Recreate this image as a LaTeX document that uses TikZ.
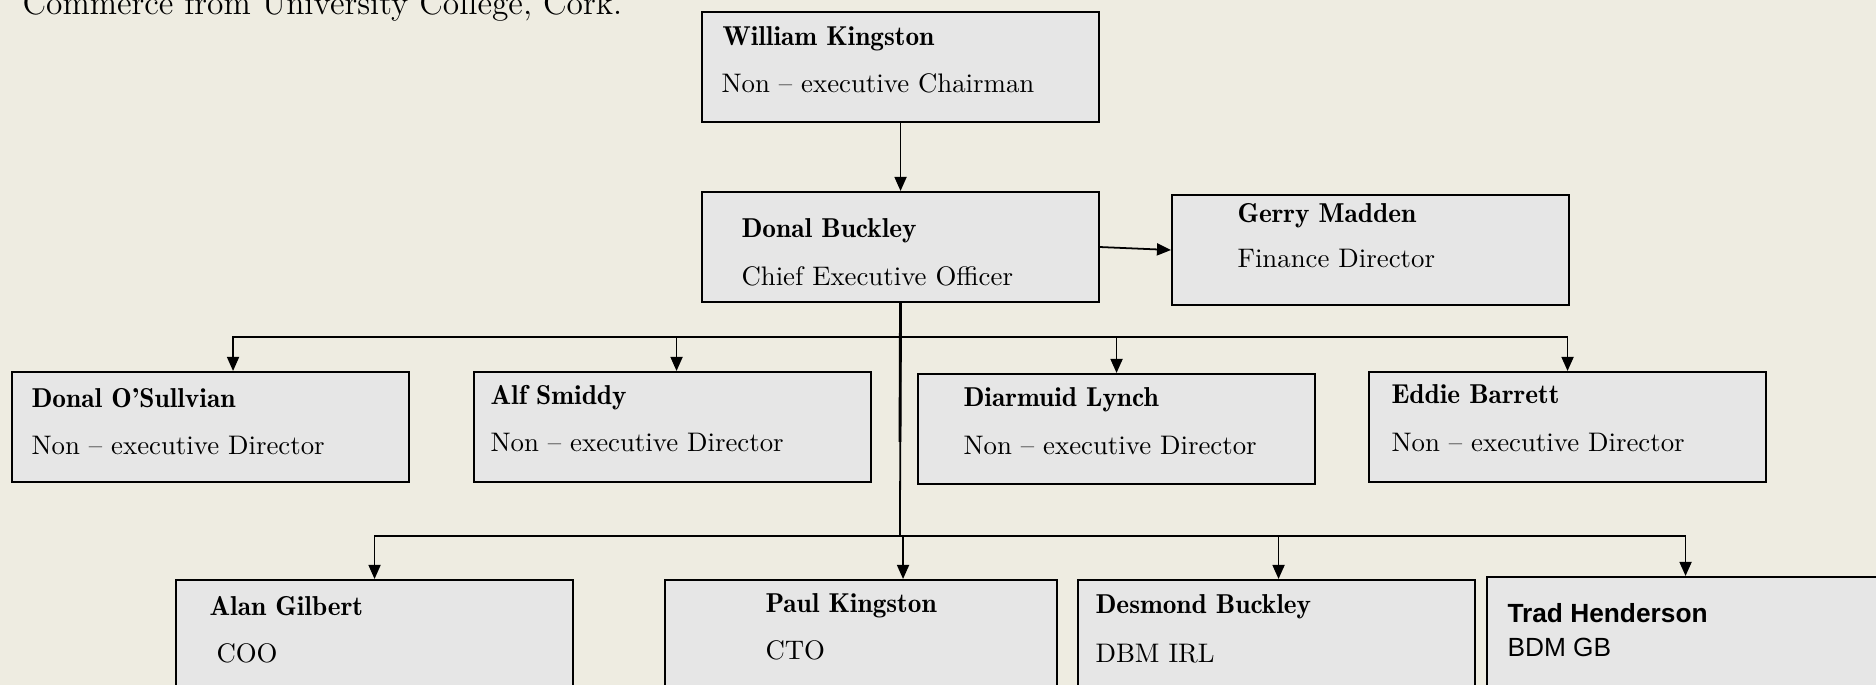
\documentclass[tikz,border=0pt]{standalone}
\usepackage{amsmath}
\usepackage{fontspec}
\newfontfamily\arialfont{Liberation Sans}
\usepackage{tikz}
\usetikzlibrary{arrows.meta,calc}
\definecolor{paper}{RGB}{238,236,225}
\definecolor{boxgray}{RGB}{230,230,230}

\begin{document}
\begin{tikzpicture}[x=0.0135cm,y=-0.0135cm,
        box/.style={draw,fill=boxgray,line width=0.8pt,anchor=north west,
          minimum width={397*0.0135cm},minimum height={110*0.0135cm},inner sep=0pt},
        who/.style={anchor=base west,inner sep=0pt,font=\fontsize{10.5}{12}\fontseries{b}\selectfont},
        post/.style={anchor=base west,inner sep=0pt,font=\fontsize{10.3}{12}\selectfont},
        line/.style={line width=0.68pt},
        trunk/.style={line width=1.1pt},
        arr/.style={line width=0.68pt,-{Triangle[length=5.4pt,width=4.6pt]}}]
        	\useasboundingbox (0,0) rectangle (1876,685);
        	\clip (0,0) rectangle (1876,685);
        	\fill[paper] (0,0) rectangle (1876,685);

        	\node[anchor=base west,inner sep=0pt,font=\fontsize{12.85}{15}\selectfont] (cork)
        	  at (22,15) {Commerce from University College, Cork.};

        	\foreach \n/\x/\y in {wk/701/11, db/701/191, gm/1171/194,
        	  do/11/371, as/473/371, dl/917/373, eb/1368/371,
        	  ag/175/579, dsb/1077/579, th/1486/576} {
        		\node[box] (\n) at (\x,\y) {};
        	};
        	\node[box,minimum width={392*0.0135cm}] (pk) at (664,579) {};

        	\node[who] (wk-n) at (722,46) {William Kingston};
        	\node[post] (wk-r) at (721,93) {Non -- executive Chairman};
        	\node[who] (db-n) at (741,238) {Donal Buckley};
        	\node[post] (db-r) at (741,286) {Chief Executive Officer};
        	\node[who] (gm-n) at (1237,223) {Gerry Madden};
        	\node[post] (gm-r) at (1237,268) {Finance Director};
        	\node[who] (do-n) at (31,408) {Donal O’Sullvian};
        	\node[post] (do-r) at (31,455) {Non -- executive Director};
        	\node[who] (as-n) at (490,405) {Alf Smiddy};
        	\node[post] (as-r) at (490,452) {Non -- executive Director};
        	\node[who] (dl-n) at (963,407) {Diarmuid Lynch};
        	\node[post] (dl-r) at (963,455) {Non -- executive Director};
        	\node[who] (eb-n) at (1391,404) {Eddie Barrett};
        	\node[post] (eb-r) at (1391,452) {Non -- executive Director};
        	\node[who] (ag-n) at (209,616) {Alan Gilbert};
        	\node[post] (ag-r) at (216,663) {COO};
        	\node[who] (pk-n) at (765,613) {Paul Kingston};
        	\node[post] (pk-r) at (765,660) {CTO};
        	\node[who] (dsb-n) at (1095,614) {Desmond Buckley};
        	\node[post] (dsb-r) at (1095,663) {DBM IRL};
        	\node[anchor=base west,inner sep=0pt,font=\arialfont\fontsize{10.1}{12}\bfseries] (th-n)
        	  at (1507,623) {Trad Henderson};
        	\node[anchor=base west,inner sep=0pt,font=\arialfont\fontsize{10.1}{12}\selectfont] (th-r)
        	  at (1507,657) {BDM GB};

        	\draw[arr] (wk) -- (db);
        	\draw[arr] (db.east) -- (gm.west);

        	\coordinate (bend) at (900,442);
        	\coordinate (bus1) at (900,337);
        	\coordinate (bus2) at (900,536);
        	\draw[trunk] (db.south) -- (bend);
        	\draw[line] (db.south) -- (bus2);
        	\draw[trunk] (bus1) -- ($(eb.north)+(0,-34)$);
        	\foreach \n/\dx in {do/22.5, as/4, dl/0, eb/0} {
        		\draw[arr] (bus1) -| ($(\n.north)+(\dx,0)$);
        	};
        	\foreach \n/\dx in {ag/0, pk/42, dsb/2, th/0} {
        		\draw[arr] (bus2) -| ($(\n.north)+(\dx,0)$);
        	};
        \end{tikzpicture}
\end{document}
